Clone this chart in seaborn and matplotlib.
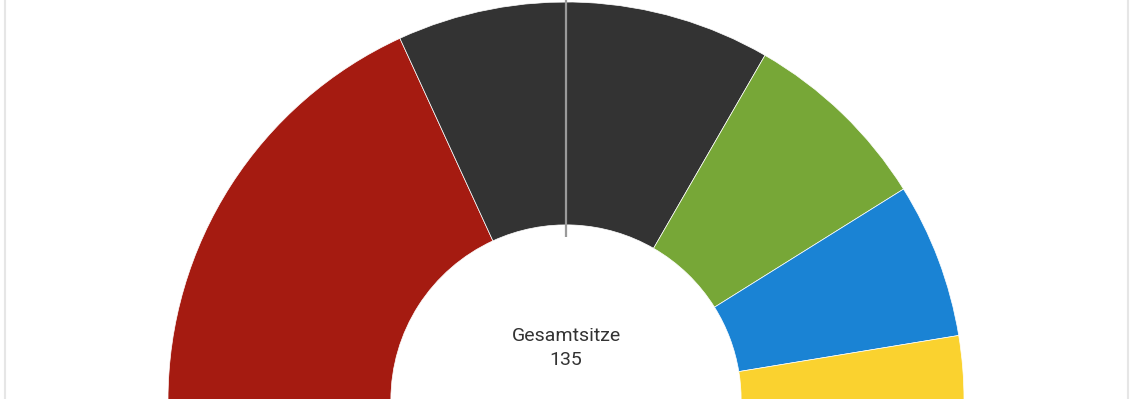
# Sitzverteilung als Halbkreis
import matplotlib
matplotlib.use("Agg")
import matplotlib.pyplot as plt
import seaborn as sns
from matplotlib.lines import Line2D

seats = [49, 41, 21, 17, 7]
colors = ["#a51b11", "#333333", "#77a737", "#1a83d4", "#fad22f"]
total_label = "Gesamtsitze"
total = sum(seats)

sns.set_theme(style="white")
plt.rcParams["font.family"] = ["Roboto", "DejaVu Sans"]

W, H = 1136, 399
fig = plt.figure(figsize=(W / 100, H / 100), dpi=100)
ax = fig.add_axes([0, 0, 1, 1])

# unsichtbare untere Hälfte, damit der Ring nur oben gezeichnet wird
ax.pie(seats + [total], colors=colors + ["none"], startangle=180, counterclock=False,
       radius=1.0, wedgeprops=dict(width=0.56, edgecolor="#ffffff", linewidth=0.5))
ax.patches[-1].set_edgecolor("none")

# Mehrheitslinie
ax.plot([0, 0], [0.41, 1.02], color="#9a9a9a", lw=1.6, solid_capstyle="butt")

ax.text(0, 0.148, total_label, ha="center", va="baseline", fontsize=14, color="#333333")
ax.text(0, 0.088, str(total), ha="center", va="baseline", fontsize=14, color="#333333")

R = 398.0
cx, cy = 566.0, 1.0
ax.set_aspect("auto")
ax.set_xlim(-cx / R, (W - cx) / R)
ax.set_ylim(cy / R, (H + cy) / R)
ax.axis("off")

for xp in (5, 1128):
    fig.add_artist(Line2D([xp / W, xp / W], [0, 1], color="#e6e6e6", lw=1.5))

fig.savefig("out.png", dpi=100)
